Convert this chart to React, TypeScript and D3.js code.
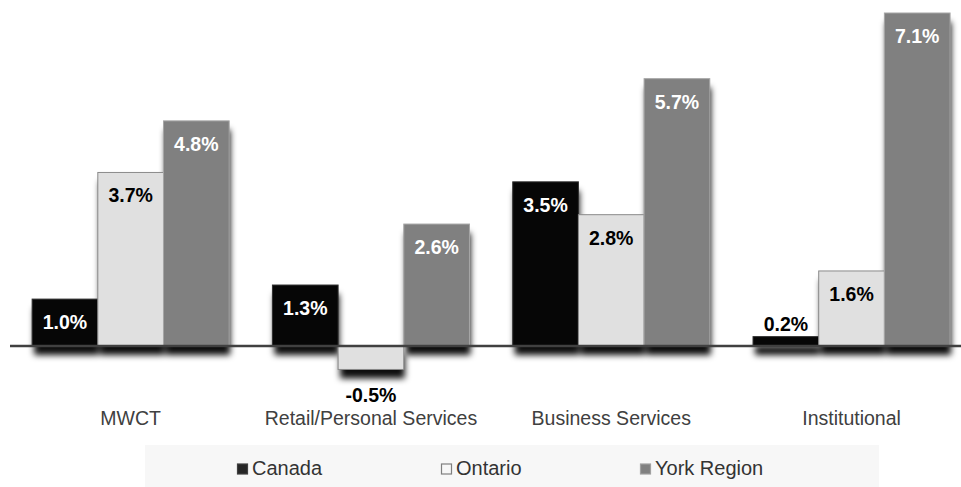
import React from "react";
import * as d3 from "d3";

const categories = ["MWCT", "Retail/Personal Services", "Business Services", "Institutional"];
const seriesNames = ["Canada", "Ontario", "York Region"];
const canada = [1.0, 1.3, 3.5, 0.2];
const ontario = [3.7, -0.5, 2.8, 1.6];
const york = [4.8, 2.6, 5.7, 7.1];
const valueLabels = [
  ["1.0%", "1.3%", "3.5%", "0.2%"],
  ["3.7%", "-0.5%", "2.8%", "1.6%"],
  ["4.8%", "2.6%", "5.7%", "7.1%"],
];

const W = 961;
const H = 487;
const FONT = "Arial, 'Liberation Sans', sans-serif";

const seriesStyle = [
  { fill: "#060606", stroke: "#303030", label: "#ffffff", legendFill: "#262626", legendStroke: "#404040" },
  { fill: "#e0e0e0", stroke: "#8a8a8a", label: "#000000", legendFill: "#f7f7f7", legendStroke: "#7f7f7f" },
  { fill: "#808080", stroke: "#a6a6a6", label: "#ffffff", legendFill: "#808080", legendStroke: "#a0a0a0" },
];

export default function App() {
  const values = [canada, ontario, york];
  const x0 = d3.scaleBand<string>().domain(categories).range([10.5, 971.7]).padding(0);
  const groupW = x0.bandwidth() * 0.82;
  const x1 = d3.scaleBand<string>().domain(seriesNames).range([0, groupW]).padding(0);
  const y = d3.scaleLinear().domain([0, 7.1]).range([346, 13]);
  const y0 = y(0);

  const legendX = [237, 441, 640];

  const bars = categories.flatMap((c, ci) => {
    const gx = (x0(c) as number) + (x0.bandwidth() - groupW) / 2;
    return seriesNames.map((s, si) => {
      const v = values[si][ci];
      const bx = gx + (x1(s) as number);
      const top = Math.min(y(v), y0);
      const h = Math.abs(y(v) - y0);
      return { c, s, si, ci, v, bx, top, h, w: x1.bandwidth() };
    });
  });

  return (
    <div style={{ position: "absolute", left: 0, top: 0 }}>
      <svg width={W} height={H} style={{ display: "block" }}>
        <defs>
          <filter id="blur" filterUnits="userSpaceOnUse" x="0" y="0" width={W} height={H}>
            <feGaussianBlur stdDeviation="3" />
          </filter>
        </defs>
        <rect x={0} y={0} width={W} height={H} fill="#ffffff" />
        {/* shadows */}
        <g filter="url(#blur)">
          {bars.map((b) => (
            <rect
              key={`sh-${b.c}-${b.s}`}
              x={b.bx + 2}
              y={b.top + 9}
              width={b.w - 1}
              height={Math.max(b.h, 2)}
              fill="#000"
              fillOpacity={0.95}
            />
          ))}
        </g>
        {/* bars */}
        {bars.map((b) => (
          <rect
            key={`${b.c}-${b.s}`}
            x={b.bx}
            y={b.top}
            width={b.w}
            height={b.h}
            fill={seriesStyle[b.si].fill}
            stroke={seriesStyle[b.si].stroke}
            strokeWidth={1}
          />
        ))}
        {/* zero axis */}
        <line x1={10} x2={W} y1={y0} y2={y0} stroke="#404040" strokeWidth={2.5} />
        {/* value labels */}
        {bars.map((b) => {
          const cx = b.bx + b.w / 2;
          let ty: number;
          let color = seriesStyle[b.si].label;
          if (b.v < 0) {
            ty = y(b.v) + 33;
            color = "#000";
          } else if (b.h < 32) {
            ty = y(b.v) - 6;
            color = "#000";
          } else {
            ty = y(b.v) + 30;
          }
          return (
            <text
              key={`l-${b.c}-${b.s}`}
              x={cx}
              y={ty}
              textAnchor="middle"
              fontFamily={FONT}
              fontWeight="bold"
              fontSize={19.5}
              fill={color}
            >
              {valueLabels[b.si][b.ci]}
            </text>
          );
        })}
        {/* category labels */}
        {categories.map((c) => (
          <text
            key={`c-${c}`}
            x={(x0(c) as number) + x0.bandwidth() / 2}
            y={425}
            textAnchor="middle"
            fontFamily={FONT}
            fontSize={19.5}
            fill="#404040"
          >
            {c}
          </text>
        ))}
        {/* legend */}
        <rect x={145} y={445} width={734} height={42} fill="#f7f7f7" />
        {seriesNames.map((s, si) => (
          <g key={`lg-${s}`}>
            <rect
              x={legendX[si] + 0.5}
              y={464}
              width={10}
              height={10}
              fill={seriesStyle[si].legendFill}
              stroke={seriesStyle[si].legendStroke}
              strokeWidth={1.2}
            />
            <text x={legendX[si] + 15} y={475} fontFamily={FONT} fontSize={20} fill="#333333">
              {s}
            </text>
          </g>
        ))}
      </svg>
    </div>
  );
}
